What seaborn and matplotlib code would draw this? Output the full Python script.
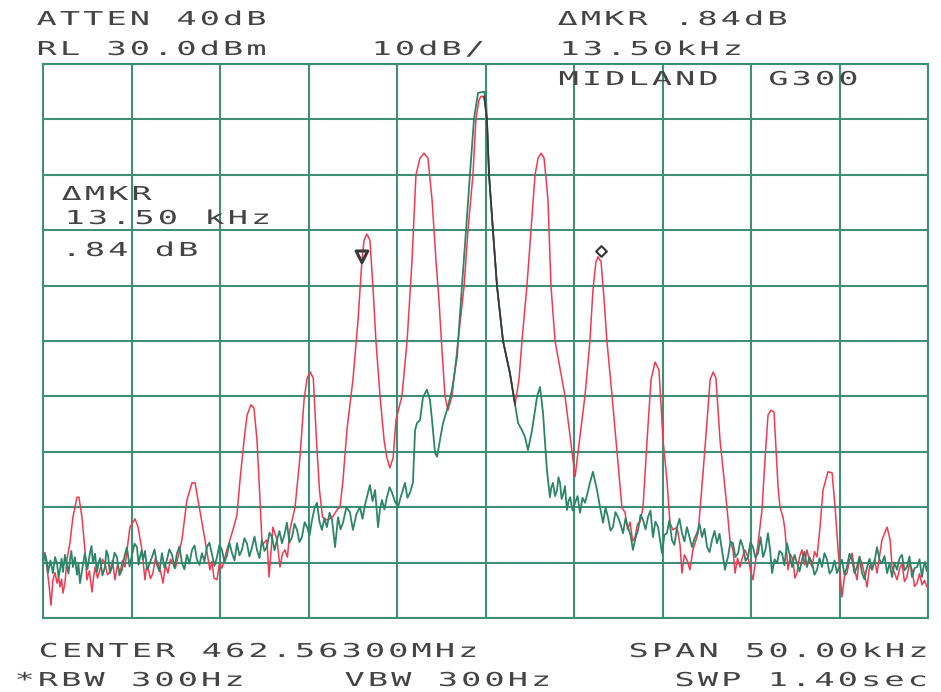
import matplotlib
matplotlib.use("Agg")
import matplotlib.pyplot as plt
import seaborn as sns
import pandas as pd
import numpy as np
from matplotlib.patheffects import AbstractPathEffect
from matplotlib.path import Path

# spectrum analyser plot, MIDLAND G300, span 50 kHz around 462.563 MHz
# traces: (offset kHz, level dBm)
red_trace = [
    (-25.0, -59.0), (-24.89, -58.2), (-24.78, -60.8), (-24.66, -64.0), (-24.55, -67.7),
    (-24.44, -63.1), (-24.32, -61.8), (-24.21, -63.7), (-24.12, -62.5), (-24.04, -64.4),
    (-23.95, -63.0), (-23.87, -65.5), (-23.76, -63.7), (-23.65, -59.5), (-23.48, -56.5),
    (-23.31, -51.8), (-23.08, -48.2), (-22.97, -48.2), (-22.80, -51.8), (-22.63, -57.7),
    (-22.52, -63.1), (-22.38, -61.5), (-22.23, -65.3), (-22.14, -62.6), (-22.06, -60.8),
    (-21.92, -62.8), (-21.78, -61.3), (-21.64, -59.4), (-21.50, -60.1), (-21.36, -62.2),
    (-21.22, -61.7), (-21.08, -59.6), (-20.93, -63.1), (-20.79, -60.4), (-20.65, -61.9),
    (-20.51, -59.6), (-20.37, -60.8), (-20.09, -53.6), (-19.80, -52.1), (-19.63, -53.6),
    (-19.41, -57.7), (-19.24, -63.1), (-19.16, -61.0), (-19.07, -60.8), (-18.93, -62.9),
    (-18.79, -61.9), (-18.65, -59.2), (-18.51, -60.1), (-18.36, -61.5), (-18.22, -63.7),
    (-18.08, -60.5), (-17.94, -61.9), (-17.80, -59.4), (-17.66, -60.1), (-17.52, -61.0),
    (-17.37, -59.0), (-17.15, -55.9), (-16.87, -48.7), (-16.58, -45.6), (-16.41, -45.6),
    (-16.24, -48.7), (-16.02, -52.8), (-15.85, -55.9), (-15.57, -61.3), (-15.45, -59.8),
    (-15.34, -62.8), (-15.17, -63.1), (-15.03, -60.2), (-14.89, -61.0), (-14.61, -57.7),
    (-14.27, -54.1), (-14.04, -51.4), (-13.87, -45.1), (-13.64, -37.9), (-13.47, -33.4),
    (-13.25, -31.5), (-13.08, -32.1), (-12.91, -37.9), (-12.74, -48.7), (-12.62, -56.8),
    (-12.35, -55.9), (-12.23, -62.6), (-12.01, -53.6), (-11.78, -55.9), (-11.61, -60.8),
    (-11.47, -58.4), (-11.33, -57.7), (-11.19, -59.0), (-11.05, -54.1), (-10.76, -50.0),
    (-10.48, -40.9), (-10.25, -30.6), (-10.08, -26.7), (-9.90, -25.6), (-9.73, -26.7),
    (-9.55, -37.9), (-9.38, -46.9), (-9.21, -51.8), (-8.96, -52.3), (-8.67, -51.9),
    (-8.39, -50.5), (-8.22, -50.0), (-8.05, -45.1), (-7.83, -36.1), (-7.49, -27.0),
    (-7.20, -16.2), (-6.98, -5.4), (-6.86, -1.8), (-6.70, -0.7), (-6.53, -1.8),
    (-6.36, -10.1), (-6.19, -20.0), (-5.96, -29.9), (-5.73, -37.9), (-5.57, -41.1),
    (-5.40, -42.9), (-5.22, -41.1), (-5.06, -34.3), (-4.72, -29.9), (-4.43, -20.0),
    (-4.15, -5.4), (-3.93, 10.0), (-3.70, 13.0), (-3.47, 13.9), (-3.25, 13.0),
    (-3.02, 5.5), (-2.80, -5.4), (-2.63, -12.6), (-2.46, -21.6), (-2.29, -29.9),
    (-2.12, -32.5), (-1.89, -29.9), (-1.55, -20.0), (-1.21, -10.1), (-0.99, 0.0),
    (-0.71, 10.0), (-0.54, 20.1), (-0.37, 23.5), (-0.25, 24.2), (-0.08, 24.0),
    (0.08, 20.1), (0.20, 10.0), (0.42, 0.0), (0.65, -10.1), (0.99, -20.0),
    (1.38, -25.8), (1.67, -31.5), (1.89, -27.0), (2.06, -20.0), (2.34, -10.1),
    (2.57, 0.0), (2.80, 10.0), (2.97, 13.0), (3.14, 13.9), (3.31, 13.0),
    (3.53, 5.5), (3.70, -10.1), (3.93, -20.0), (4.49, -29.9), (4.89, -40.0),
    (5.06, -44.5), (5.23, -40.0), (5.62, -29.9), (5.90, -20.0), (6.07, -10.8),
    (6.24, -5.7), (6.36, -4.8), (6.53, -5.7), (6.70, -12.6), (6.86, -20.0),
    (7.15, -29.9), (7.43, -40.0), (7.71, -50.1), (7.88, -50.9), (8.03, -54.0),
    (8.17, -52.7), (8.31, -56.1), (8.45, -55.4), (8.59, -53.0), (8.73, -52.7),
    (8.90, -50.0), (9.13, -37.9), (9.35, -27.0), (9.58, -23.8), (9.80, -25.2),
    (10.03, -37.9), (10.25, -45.1), (10.42, -52.8), (10.59, -54.1), (10.82, -53.6),
    (10.99, -56.8), (11.10, -61.9), (11.24, -58.6), (11.38, -59.5), (11.55, -61.3),
    (11.72, -57.7), (12.01, -54.7), (12.29, -43.8), (12.52, -34.3), (12.69, -27.0),
    (12.86, -25.6), (13.02, -26.7), (13.25, -37.9), (13.64, -50.0), (13.81, -55.9),
    (13.98, -57.7), (14.10, -61.9), (14.24, -59.2), (14.38, -60.8), (14.52, -59.0),
    (14.66, -57.7), (14.83, -59.0), (14.97, -61.4), (15.11, -63.1), (15.40, -56.5),
    (15.62, -50.5), (15.79, -41.5), (15.96, -33.4), (16.13, -32.5), (16.30, -32.8),
    (16.53, -46.4), (16.64, -50.0), (16.81, -51.8), (16.92, -54.1), (17.09, -61.3),
    (17.23, -58.5), (17.37, -59.5), (17.48, -62.8), (17.60, -61.9), (17.74, -59.0),
    (17.88, -57.7), (18.02, -60.4), (18.16, -57.7), (18.30, -59.6), (18.45, -60.8),
    (18.59, -58.0), (18.73, -59.0), (18.90, -53.6), (19.07, -46.9), (19.35, -43.6),
    (19.58, -43.8), (19.75, -50.0), (19.92, -57.7), (20.14, -66.2), (20.28, -62.5),
    (20.42, -61.9), (20.56, -59.6), (20.71, -58.3), (20.85, -61.2), (20.99, -63.1),
    (21.13, -59.0), (21.27, -60.1), (21.41, -62.1), (21.56, -64.4), (21.70, -60.6),
    (21.84, -61.3), (21.98, -59.4), (22.12, -61.9), (22.40, -55.9), (22.69, -53.6),
    (22.86, -55.9), (22.97, -60.8), (23.11, -61.9), (23.25, -63.1), (23.39, -61.2),
    (23.53, -60.1), (23.67, -63.4), (23.81, -62.6), (23.95, -60.2), (24.10, -61.3),
    (24.24, -64.3), (24.38, -63.7), (24.52, -62.0), (24.66, -64.0), (24.80, -63.2),
    (24.94, -64.4),
]

green_trace = [
    (-25.0, -60.4), (-24.89, -58.4), (-24.78, -59.9), (-24.72, -61.9), (-24.58, -59.6),
    (-24.44, -61.9), (-24.32, -59.0), (-24.21, -60.1), (-24.12, -62.6), (-24.04, -61.3),
    (-23.95, -59.3), (-23.87, -61.7), (-23.76, -58.6), (-23.65, -60.4), (-23.56, -62.0),
    (-23.48, -59.5), (-23.40, -57.9), (-23.31, -60.8), (-23.20, -59.0), (-23.08, -62.2),
    (-23.00, -60.2), (-22.91, -63.7), (-22.77, -60.9), (-22.63, -58.3), (-22.49, -61.2),
    (-22.35, -58.3), (-22.26, -57.0), (-22.18, -60.1), (-22.06, -58.4), (-21.95, -61.7),
    (-21.86, -60.0), (-21.78, -59.2), (-21.64, -62.3), (-21.50, -60.8), (-21.42, -57.8),
    (-21.33, -58.6), (-21.22, -61.9), (-21.10, -60.8), (-20.96, -58.2), (-20.82, -59.0),
    (-20.68, -62.3), (-20.54, -61.3), (-20.40, -58.9), (-20.26, -57.2), (-20.11, -60.7),
    (-19.97, -58.6), (-19.83, -56.6), (-19.69, -57.2), (-19.60, -60.4), (-19.52, -59.0),
    (-19.43, -57.8), (-19.35, -59.5), (-19.24, -57.9), (-19.12, -61.3), (-18.98, -60.2),
    (-18.84, -59.0), (-18.70, -57.6), (-18.56, -60.4), (-18.42, -61.6), (-18.28, -58.3),
    (-18.14, -60.9), (-18.00, -59.5), (-17.86, -57.6), (-17.71, -58.6), (-17.57, -61.0),
    (-17.43, -58.3), (-17.29, -57.1), (-17.15, -60.1), (-17.01, -61.2), (-16.87, -58.6),
    (-16.73, -60.2), (-16.58, -57.7), (-16.44, -56.9), (-16.30, -59.5), (-16.16, -60.4),
    (-16.02, -58.3), (-15.88, -59.8), (-15.74, -57.2), (-15.60, -56.4), (-15.45, -58.6),
    (-15.31, -60.6), (-15.17, -59.0), (-15.03, -56.8), (-14.89, -57.7), (-14.75, -59.9),
    (-14.61, -58.8), (-14.47, -56.4), (-14.32, -58.3), (-14.18, -59.6), (-14.04, -56.5),
    (-13.90, -58.7), (-13.76, -57.7), (-13.62, -55.6), (-13.48, -56.5), (-13.34, -58.9),
    (-13.19, -57.2), (-13.05, -55.3), (-12.91, -57.7), (-12.77, -59.2), (-12.63, -55.9),
    (-12.49, -57.9), (-12.35, -57.2), (-12.20, -54.6), (-12.06, -55.4), (-11.92, -57.8),
    (-11.78, -55.9), (-11.64, -54.3), (-11.50, -56.5), (-11.36, -55.0), (-11.22, -52.8),
    (-11.08, -56.4), (-10.93, -55.4), (-10.79, -53.0), (-10.65, -54.1), (-10.51, -56.3),
    (-10.37, -55.4), (-10.22, -52.7), (-10.08, -53.6), (-9.94, -55.1), (-9.80, -52.3),
    (-9.66, -50.2), (-9.52, -49.2), (-9.38, -52.6), (-9.24, -54.1), (-9.10, -52.0),
    (-8.96, -53.6), (-8.81, -51.0), (-8.67, -52.3), (-8.50, -57.2), (-8.33, -51.8),
    (-8.19, -54.0), (-8.05, -52.8), (-7.86, -50.0), (-7.66, -50.9), (-7.49, -54.1),
    (-7.29, -51.2), (-7.09, -50.0), (-6.95, -52.1), (-6.81, -49.6), (-6.67, -47.8),
    (-6.53, -46.0), (-6.38, -48.9), (-6.24, -46.9), (-6.07, -53.6), (-5.96, -50.3),
    (-5.85, -48.7), (-5.71, -50.4), (-5.57, -48.2), (-5.42, -46.4), (-5.28, -47.4),
    (-5.11, -49.0), (-4.94, -50.0), (-4.83, -48.6), (-4.72, -47.4), (-4.55, -45.6),
    (-4.41, -48.3), (-4.27, -47.4), (-4.10, -45.6), (-3.98, -36.1), (-3.87, -34.8),
    (-3.70, -34.3), (-3.53, -30.1), (-3.31, -28.8), (-3.14, -30.6), (-3.02, -34.3),
    (-2.85, -40.2), (-2.74, -40.9), (-2.57, -37.9), (-2.40, -34.8), (-2.18, -32.5),
    (-1.89, -28.8), (-1.61, -22.9), (-1.33, -10.1), (-1.10, 0.0), (-0.88, 10.0),
    (-0.65, 20.1), (-0.48, 23.5), (-0.42, 24.8), (-0.08, 25.0), (0.03, 23.5),
    (0.08, 20.1), (0.20, 10.0), (0.42, 0.0), (0.65, -10.1), (0.99, -20.0),
    (1.38, -25.8), (1.67, -31.5), (1.84, -34.8), (2.06, -36.1), (2.23, -37.3),
    (2.40, -39.7), (2.63, -36.1), (2.91, -30.1), (3.08, -28.3), (3.25, -33.0),
    (3.47, -43.3), (3.64, -48.2), (3.72, -46.4), (3.81, -45.6), (3.93, -48.0),
    (4.04, -46.9), (4.12, -44.6), (4.21, -45.6), (4.30, -48.5), (4.38, -47.8),
    (4.49, -46.2), (4.60, -50.5), (4.69, -48.9), (4.78, -48.2), (4.92, -50.6),
    (5.06, -49.2), (5.20, -48.0), (5.34, -51.0), (5.48, -48.3), (5.62, -49.2),
    (5.76, -47.5), (5.90, -45.6), (6.07, -43.6), (6.30, -46.9), (6.47, -50.0),
    (6.64, -52.8), (6.78, -50.1), (6.92, -51.8), (7.06, -54.2), (7.20, -53.6),
    (7.34, -50.9), (7.49, -51.8), (7.63, -53.1), (7.77, -54.7), (7.91, -52.0),
    (8.05, -53.6), (8.19, -55.0), (8.33, -57.7), (8.47, -55.6), (8.62, -54.1),
    (8.76, -51.4), (8.90, -52.3), (9.04, -54.0), (9.18, -51.8), (9.32, -50.6),
    (9.46, -55.4), (9.60, -52.6), (9.75, -53.6), (9.86, -55.9), (9.97, -58.3),
    (10.11, -55.0), (10.25, -54.7), (10.39, -52.3), (10.53, -55.9), (10.67, -56.8),
    (10.82, -53.6), (10.96, -52.1), (11.10, -54.7), (11.24, -56.2), (11.38, -53.6),
    (11.52, -55.3), (11.67, -57.2), (11.81, -55.6), (11.95, -54.7), (12.09, -53.0),
    (12.23, -55.4), (12.37, -53.9), (12.52, -57.2), (12.66, -58.1), (12.80, -55.9),
    (12.94, -54.3), (13.08, -56.5), (13.22, -54.8), (13.36, -57.7), (13.45, -59.6),
    (13.53, -61.3), (13.62, -59.9), (13.70, -59.0), (13.84, -56.2), (13.98, -56.5),
    (14.12, -59.0), (14.27, -58.3), (14.41, -55.9), (14.55, -57.2), (14.69, -59.7),
    (14.83, -59.0), (14.97, -56.3), (15.11, -57.2), (15.25, -59.1), (15.40, -58.3),
    (15.54, -55.4), (15.68, -59.0), (15.82, -57.6), (15.96, -54.7), (16.08, -57.8),
    (16.19, -61.9), (16.33, -59.4), (16.47, -60.1), (16.61, -57.9), (16.75, -58.3),
    (16.89, -60.5), (17.03, -56.5), (17.17, -58.4), (17.32, -60.8), (17.46, -58.6),
    (17.60, -60.1), (17.74, -61.6), (17.88, -59.5), (18.02, -58.0), (18.16, -60.8),
    (18.30, -59.0), (18.45, -60.1), (18.59, -62.2), (18.73, -61.3), (18.87, -59.2),
    (19.01, -60.8), (19.15, -58.3), (19.30, -59.5), (19.44, -62.0), (19.58, -61.3),
    (19.72, -59.6), (19.86, -61.9), (20.00, -60.6), (20.14, -59.5), (20.28, -62.2),
    (20.42, -60.8), (20.56, -58.4), (20.71, -59.5), (20.85, -61.9), (20.99, -60.8),
    (21.13, -58.9), (21.27, -61.9), (21.41, -63.0), (21.56, -60.8), (21.70, -59.3),
    (21.84, -61.3), (21.98, -59.8), (22.12, -57.2), (22.26, -59.5), (22.40, -60.1),
    (22.54, -58.8), (22.69, -61.9), (22.83, -60.1), (22.97, -62.6), (23.11, -60.0),
    (23.25, -61.3), (23.39, -59.2), (23.53, -58.6), (23.67, -61.4), (23.81, -60.8),
    (23.95, -58.9), (24.10, -62.6), (24.24, -61.0), (24.38, -60.8), (24.52, -59.4),
    (24.66, -62.6), (24.75, -60.7), (24.83, -59.9), (24.92, -61.5), (25.0, -60.4),
]

# dark pen on the falling edge of the carrier
black_trace = [
    (-0.08, 24.2), (0.08, 20.1), (0.20, 10.0), (0.42, 0.0), (0.65, -10.1),
    (0.99, -20.0), (1.38, -25.8), (1.67, -31.5),
]

marker_ref = (-6.98, -4.8)     # reference marker (triangle)
marker_delta = (6.53, -3.75)   # delta marker (diamond)

x_ticks = list(range(-25, 26, 5))    # 5 kHz / div
y_ticks = list(range(-70, 31, 10))   # 10 dB / div, RL 30 dBm

# plotter annotations: (left px, baseline px, text)
labels = [
    (35, 25, "ATTEN 40dB"),
    (556, 25, "\u0394MKR .84dB"),
    (35, 55, "RL 30.0dBm"),
    (370, 55, "10dB/"),
    (558, 55, "13.50kHz"),
    (557, 85, "MIDLAND  G300"),
    (60, 200, "\u0394MKR"),
    (63, 224, "13.50 kHz"),
    (60, 256, ".84 dB"),
    (37, 657, "CENTER 462.56300MHz"),
    (627, 657, "SPAN 50.00kHz"),
    (13, 686, "*RBW 300Hz"),
    (343, 686, "VBW 300Hz"),
    (673, 686, "SWP 1.40sec"),
]

GRID = "#3f8f76"
RED = "#f03a52"
GREEN = "#2b8566"
INK = "#383838"
TEXT = "#444444"


class PlotterFont(AbstractPathEffect):
    # plotter lettering: mono cells about twice as wide, glyphs a bit wider,
    # so each glyph is moved to its own wider cell and widened a little
    def __init__(self, cell=2.02, glyph=1.75, adv=60.21):
        super().__init__()
        self.cell, self.glyph, self.adv = cell, glyph, adv

    def draw_path(self, renderer, gc, tpath, affine, rgbFace=None):
        v = tpath.vertices.copy()
        contour = np.cumsum(tpath.codes == Path.MOVETO)
        for k in np.unique(contour):
            m = contour == k
            cx = (np.floor(v[m, 0].mean() / self.adv) + 0.5) * self.adv
            v[m, 0] = cx * self.cell + (v[m, 0] - cx) * self.glyph
        renderer.draw_path(gc, Path(v, tpath.codes), affine, rgbFace)


sns.set_style("white")

W, H = 941, 692
fig = plt.figure(figsize=(W / 100, H / 100), dpi=100)
ax = fig.add_axes([43 / W, 1 - 618 / H, (928 - 43) / W, (618 - 64) / H])

red = pd.DataFrame(red_trace, columns=["khz", "dbm"])
green = pd.DataFrame(green_trace, columns=["khz", "dbm"])
black = pd.DataFrame(black_trace, columns=["khz", "dbm"])

sns.lineplot(data=red, x="khz", y="dbm", sort=False, estimator=None,
             color=RED, lw=1.1, ax=ax)
sns.lineplot(data=green, x="khz", y="dbm", sort=False, estimator=None,
             color=GREEN, lw=1.3, ax=ax)
sns.lineplot(data=black, x="khz", y="dbm", sort=False, estimator=None,
             color=INK, lw=1.2, ax=ax)

ax.scatter([marker_ref[0]], [marker_ref[1]], marker="v", s=70,
           facecolors="none", edgecolors=INK, linewidths=2.2, zorder=5)
ax.scatter([marker_delta[0]], [marker_delta[1]], marker="D", s=30,
           facecolors="white", edgecolors=INK, linewidths=1.5, zorder=5)

ax.set_xlim(-25, 25)
ax.set_ylim(-70, 30)
ax.set_xticks(x_ticks)
ax.set_yticks(y_ticks)
ax.grid(True, color=GRID, lw=1.5)
ax.set_axisbelow(True)
ax.tick_params(length=0, labelbottom=False, labelleft=False)
ax.set_xlabel("")
ax.set_ylabel("")
for sp in ax.spines.values():
    sp.set_color(GRID)
    sp.set_linewidth(1.5)

for px, py, s in labels:
    fig.text(px / W, 1 - py / H, s, ha="left", va="baseline",
             family="DejaVu Sans Mono", fontsize=13.8, color=TEXT,
             path_effects=[PlotterFont()])

fig.savefig("out.png", dpi=100)
